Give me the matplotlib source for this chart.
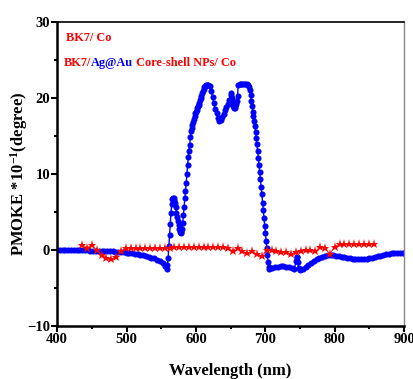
import numpy as np
import matplotlib
matplotlib.use("Agg")
import matplotlib.pyplot as plt
from matplotlib.ticker import MultipleLocator

# =========================
# Data
# =========================
# BK7/Ag@Au core-shell NPs/Co (blue)
blue_wl = [
    400, 404, 408, 412, 416, 420, 424, 428, 432, 436, 440, 444, 448, 452, 456,
    460, 464, 468, 472, 476, 480, 484, 488, 492, 496, 500, 504, 508, 512, 516,
    520, 524, 528, 532, 536, 540, 544, 548, 552, 556, 558,
    559, 560, 561, 562, 563, 564, 565, 566, 567, 568, 569, 570, 571, 572, 573,
    574, 575, 576, 577, 578, 579, 580, 581, 582, 583, 584, 585, 586, 587, 588,
    589, 590, 591, 592, 593, 594, 595, 596, 597, 598, 599, 600, 601, 602, 603,
    604, 605, 606, 607, 608, 609, 610, 611, 612, 613, 614, 616, 618, 620, 622,
    624, 626, 628, 630, 632, 634, 636, 638, 640, 642, 644, 646, 648, 650, 651,
    652, 653, 654, 655, 656, 657, 658, 659, 660, 661, 663, 665, 667, 669, 671,
    673, 675, 677, 678, 679, 680, 681, 682, 683, 684, 685, 686, 687, 688, 689,
    690, 691, 692, 693, 694, 695, 696, 697, 698, 699, 700, 701, 702, 703, 704,
    705, 706, 710, 714, 718, 722, 726, 730, 734, 738, 742, 744, 745, 746, 747,
    748, 750, 754, 758, 762, 766, 770, 774, 778, 782, 786, 790, 794, 798, 802,
    806, 810, 814, 818, 822, 826, 830, 834, 838, 842, 846, 850, 854, 858, 862,
    866, 870, 874, 878, 882, 886, 890, 894, 898, 900,
]
blue_val = [
    0.0, 0.0, 0.0, -0.01, -0.02, -0.03, -0.03, -0.04, -0.05, -0.05, -0.06, -0.07, -0.08, -0.09, -0.1,
    -0.11, -0.12, -0.14, -0.16, -0.18, -0.2, -0.23, -0.26, -0.29, -0.33, -0.37, -0.41, -0.46, -0.52, -0.58,
    -0.65, -0.72, -0.8, -0.9, -1.0, -1.12, -1.27, -1.45, -1.68, -2.1, -2.55,
    -2.0, -1.0, 0.5, 2.0, 3.4, 4.8, 6.0, 6.7, 6.9, 6.8, 6.6, 6.2, 5.6, 4.9, 4.3,
    3.8, 3.3, 2.8, 2.4, 2.2, 2.3, 2.7, 3.5, 4.6, 5.7, 6.8, 7.8, 8.8, 10.0, 11.2,
    12.2, 13.0, 13.8, 14.8, 15.6, 16.0, 16.4, 16.8, 17.2, 17.6, 18.0, 18.2, 18.4, 18.7, 18.9,
    19.1, 19.4, 19.7, 20.0, 20.3, 20.6, 20.9, 21.2, 21.4, 21.6, 21.7, 21.7, 21.7, 21.6, 20.9,
    20.1, 19.3, 18.6, 18.0, 17.4, 17.0, 17.1, 17.5, 17.9, 18.4, 18.8, 19.2, 19.7, 20.4, 20.6,
    20.0, 19.3, 18.9, 18.7, 18.7, 18.9, 19.2, 19.6, 20.3, 21.7, 21.8, 21.8, 21.8, 21.8, 21.8,
    21.8, 21.7, 21.4, 21.0, 20.4, 19.6, 18.9, 18.2, 17.6, 17.0, 16.3, 15.5, 14.7, 13.9, 13.0,
    12.1, 11.2, 10.2, 9.3, 8.3, 7.3, 6.2, 5.2, 4.2, 3.2, 2.2, 1.2, 0.2, -0.6, -1.6,
    -2.3, -2.5, -2.4, -2.3, -2.2, -2.15, -2.15, -2.2, -2.3, -2.4, -2.55, -1.5, -0.9, -0.9, -1.6,
    -2.4, -2.6, -2.45, -2.25, -2.0, -1.75, -1.5, -1.25, -1.05, -0.88, -0.75, -0.68, -0.66, -0.7, -0.75,
    -0.82, -0.9, -0.98, -1.06, -1.12, -1.17, -1.21, -1.24, -1.25, -1.23, -1.18, -1.1, -1.02, -0.93, -0.84,
    -0.75, -0.66, -0.58, -0.5, -0.45, -0.41, -0.38, -0.36, -0.35, -0.35,
]

# BK7/Co (red stars)
red_wl = list(range(436, 857, 7))
red_val = [
    0.7, 0.3, 0.6, 0.0, -0.6, -1.0, -1.2, -0.9, -0.2, 0.3,
    0.3, 0.2, 0.2, 0.2, 0.2, 0.2, 0.2, 0.2, 0.3, 0.4,
    0.4, 0.4, 0.4, 0.4, 0.4, 0.4, 0.4, 0.4, 0.45, 0.4,
    0.2, -0.1, 0.3, -0.2, -0.4, -0.2, -0.5, -0.8, 0.0, 0.0,
    -0.2, -0.3, -0.3, -0.5, -0.3, -0.1, 0.0, 0.0, -0.2, 0.4,
    0.2, -0.5, 0.4, 0.8, 0.8, 0.8, 0.8, 0.8, 0.8, 0.8, 0.8,
]

# =========================
# Plot
# =========================
plt.rcParams["font.family"] = ["Liberation Serif", "DejaVu Serif"]
plt.rcParams["font.weight"] = "bold"
plt.rcParams["mathtext.fontset"] = "custom"
plt.rcParams["mathtext.rm"] = "Liberation Serif:bold"
plt.rcParams["mathtext.default"] = "rm"

fig = plt.figure(figsize=(4.14, 3.79), dpi=100)
ax = fig.add_axes([0.138, 0.14, 0.838, 0.802])

ax.plot(blue_wl, blue_val, color="blue", linewidth=1, marker="o",
        markersize=4.4, markeredgewidth=0)
ax.plot(red_wl, red_val, color="red", linewidth=0.5, marker="*",
        markersize=6.5, markerfacecolor="red", markeredgecolor="red",
        markeredgewidth=0)

ax.set_xlim(400, 900)
ax.set_ylim(-10, 30)
ax.xaxis.set_major_locator(MultipleLocator(100))
ax.xaxis.set_minor_locator(MultipleLocator(50))
ax.yaxis.set_major_locator(MultipleLocator(10))
ax.yaxis.set_minor_locator(MultipleLocator(5))
ax.tick_params(which="both", direction="out", top=False, right=False,
               labelsize=10.5, width=1.5, pad=1)
ax.tick_params(which="major", length=4)
ax.tick_params(which="minor", length=2.5)
for lab in ax.get_xticklabels() + ax.get_yticklabels():
    lab.set_fontweight("bold")

ax.spines["left"].set_linewidth(1.8)
ax.spines["bottom"].set_linewidth(1.8)
ax.spines["top"].set_linewidth(1.2)
ax.spines["right"].set_linewidth(1.0)
ax.spines["right"].set_color("#888888")

ax.set_xlabel("Wavelength (nm)", fontsize=12, fontweight="bold", labelpad=12)
ax.set_ylabel("PMOKE *10$^{-1}$(degree)", fontsize=12,
              fontweight="bold", labelpad=-2)

# legend-like coloured labels
ax.text(0.026, 0.947, "BK7/ Co", color="red", fontsize=8.8, fontweight="bold",
        transform=ax.transAxes, va="center")
t1 = ax.text(0.02, 0.865, "BK7/", color="red", fontsize=8.8, fontweight="bold",
             transform=ax.transAxes, va="center")
t2 = ax.annotate("Ag@Au", xycoords=t1, xy=(1, 0), va="bottom", ha="left",
                 color="blue", fontsize=8.8, fontweight="bold")
ax.annotate(" Core-shell NPs/ Co", xycoords=t2, xy=(1, 0), va="bottom",
            ha="left", color="red", fontsize=8.8, fontweight="bold")

fig.savefig("out.png", dpi=100)
